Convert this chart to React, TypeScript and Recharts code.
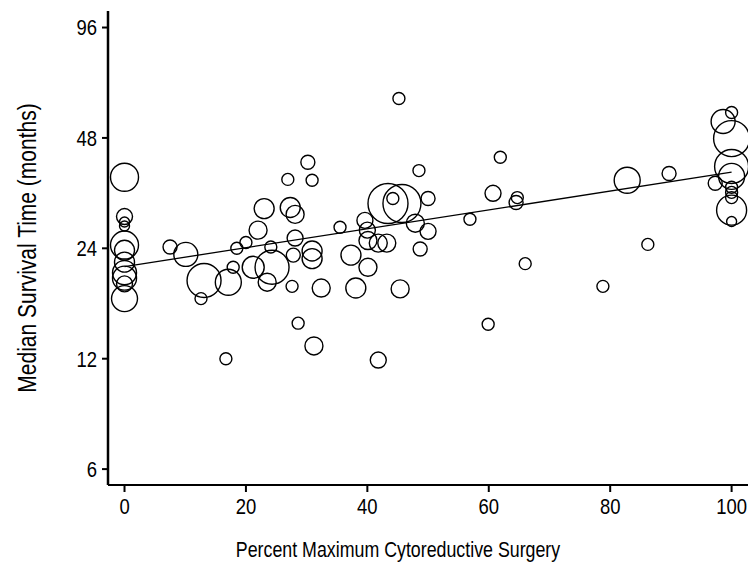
import React from 'react';
import { ScatterChart, Scatter, XAxis, YAxis, ZAxis } from 'recharts';

// Percent of patients with maximum cytoreductive surgery (per study cohort)
const pctSurgery = [
  0, 0, 0, 0, 0, 0, 0, 0, 0, 0, 0,
  7.5, 10.1, 13.1, 12.6, 17.1, 17.9, 18.5, 20.0, 22.0, 23.0,
  26.9, 30.2, 30.9, 27.3, 28.1, 24.1, 24.3, 21.2, 23.5, 28.1,
  27.8, 30.9, 30.9, 27.6, 32.4, 35.5, 37.3, 38.1, 28.6, 31.2,
  16.7, 45.2, 48.5, 61.9, 43.4, 45.7, 44.2, 50.0, 60.7, 64.7,
  64.5, 56.9, 39.6, 40.0, 47.9, 50.0, 40.1, 41.8, 43.2, 48.7,
  40.1, 45.4, 66.0, 59.9, 82.8, 89.7, 86.2, 78.8, 41.8,
  100, 98.6, 100, 100, 100, 97.3, 100, 100, 100, 100, 100,
];

// Median survival time (months)
const medianSurvival = [
  37.5, 29.3, 28.3, 27.6, 24.5, 23.7, 22.0, 20.6, 19.9, 19.2, 17.5,
  24.2, 23.1, 19.6, 17.5, 19.4, 21.3, 24.0, 24.9, 26.9, 30.8,
  37.0, 41.2, 36.8, 31.0, 29.7, 24.2, 21.3, 21.3, 19.4, 25.6,
  23.0, 23.6, 22.5, 18.9, 18.7, 27.4, 23.0, 18.7, 15.0, 13.0,
  12.0, 61.5, 39.1, 42.5, 31.8, 31.8, 32.8, 32.8, 33.9, 33.0,
  32.0, 28.8, 28.6, 26.9, 28.1, 26.7, 25.2, 24.8, 24.8, 23.9,
  21.3, 18.6, 21.8, 14.9, 36.8, 38.4, 24.6, 18.9, 11.9,
  56.3, 53.2, 47.8, 40.1, 37.7, 36.1, 35.2, 34.1, 33.0, 30.5, 28.4,
];

// Cohort size (symbol area)
const cohortSize = [
  196, 64, 25, 25, 196, 100, 100, 144, 144, 64, 169,
  49, 144, 289, 36, 169, 36, 36, 36, 81, 100,
  36, 49, 36, 100, 81, 36, 289, 121, 81, 64,
  49, 100, 100, 36, 81, 36, 100, 100, 36, 81,
  36, 36, 36, 36, 400, 361, 36, 49, 64, 36,
  49, 36, 64, 64, 81, 64, 81, 81, 81, 49,
  81, 81, 36, 36, 169, 49, 36, 36, 64,
  36, 144, 324, 289, 169, 49, 36, 36, 36, 225, 25,
];

// Fitted regression line endpoints
const fitPct = [0, 100];
const fitSurvival = [21.4, 38.7];

const xTicks = [0, 20, 40, 60, 80, 100];
const yTicks = [6, 12, 24, 48, 96];

const studies = pctSurgery.map((x, i) => ({ x, y: medianSurvival[i], n: cohortSize[i] }));
const fit = fitPct.map((x, i) => ({ x, y: fitSurvival[i], n: 0 }));

const FONT = "'Liberation Sans', Arial, sans-serif";
const SQUEEZE = 0.84;

const XTick = (props: any) => {
  const { x, y, payload } = props;
  return (
    <text
      transform={`translate(${x},${y}) scale(${SQUEEZE},1)`}
      textAnchor="middle"
      dy="0.71em"
      fontSize={22}
      fontFamily={FONT}
      fill="#000"
    >
      {payload.value}
    </text>
  );
};

const YTick = (props: any) => {
  const { x, y, payload } = props;
  return (
    <text
      transform={`translate(${x},${y}) scale(${SQUEEZE},1)`}
      textAnchor="end"
      dy="0.355em"
      fontSize={22}
      fontFamily={FONT}
      fill="#000"
    >
      {payload.value}
    </text>
  );
};

const XTitle = (props: any) => {
  const vb = props.viewBox || {};
  const cx = vb.x + vb.width / 2 - 30;
  const by = vb.y + 72;
  return (
    <text
      transform={`translate(${cx},${by}) scale(${SQUEEZE},1)`}
      textAnchor="middle"
      fontSize={21.2}
      fontFamily={FONT}
      fill="#000"
    >
      Percent Maximum Cytoreductive Surgery
    </text>
  );
};

const YTitle = (props: any) => {
  const vb = props.viewBox || {};
  const cy = vb.y + vb.height / 2;
  const bx = 36;
  return (
    <text
      transform={`translate(${bx},${cy}) rotate(-90) scale(${SQUEEZE},1)`}
      textAnchor="middle"
      fontSize={25}
      fontFamily={FONT}
      fill="#000"
    >
      Median Survival Time (months)
    </text>
  );
};

export default function App() {
  return (
    <div style={{ position: 'absolute', left: 0, top: 0, width: 750, height: 576, background: '#fff' }}>
      <ScatterChart width={750} height={576} margin={{ top: 11, right: 2, bottom: 0, left: 0 }}>
        <XAxis
          type="number"
          dataKey="x"
          domain={[-2.72, 102.7]}
          ticks={xTicks}
          allowDataOverflow
          height={91}
          axisLine={{ stroke: '#000', strokeWidth: 2 }}
          tickLine={{ stroke: '#000', strokeWidth: 2 }}
          tickSize={7}
          tickMargin={6}
          tick={<XTick />}
          label={{ content: <XTitle /> }}
        />
        <YAxis
          type="number"
          dataKey="y"
          scale="log"
          domain={[5.43, 106.5]}
          ticks={yTicks}
          allowDataOverflow
          width={108}
          axisLine={{ stroke: '#000', strokeWidth: 2.5 }}
          tickLine={{ stroke: '#000', strokeWidth: 2 }}
          tickSize={6}
          tickMargin={5}
          tick={<YTick />}
          label={{ content: <YTitle /> }}
        />
        <ZAxis type="number" dataKey="n" domain={[0, 400]} range={[0, 400 * Math.PI]} />
        <Scatter
          data={studies}
          fill="none"
          stroke="#000"
          strokeWidth={1.4}
          isAnimationActive={false}
        />
        <Scatter
          data={fit}
          line={{ stroke: '#000', strokeWidth: 1.3 }}
          shape={() => <g />}
          isAnimationActive={false}
        />
      </ScatterChart>
    </div>
  );
}
